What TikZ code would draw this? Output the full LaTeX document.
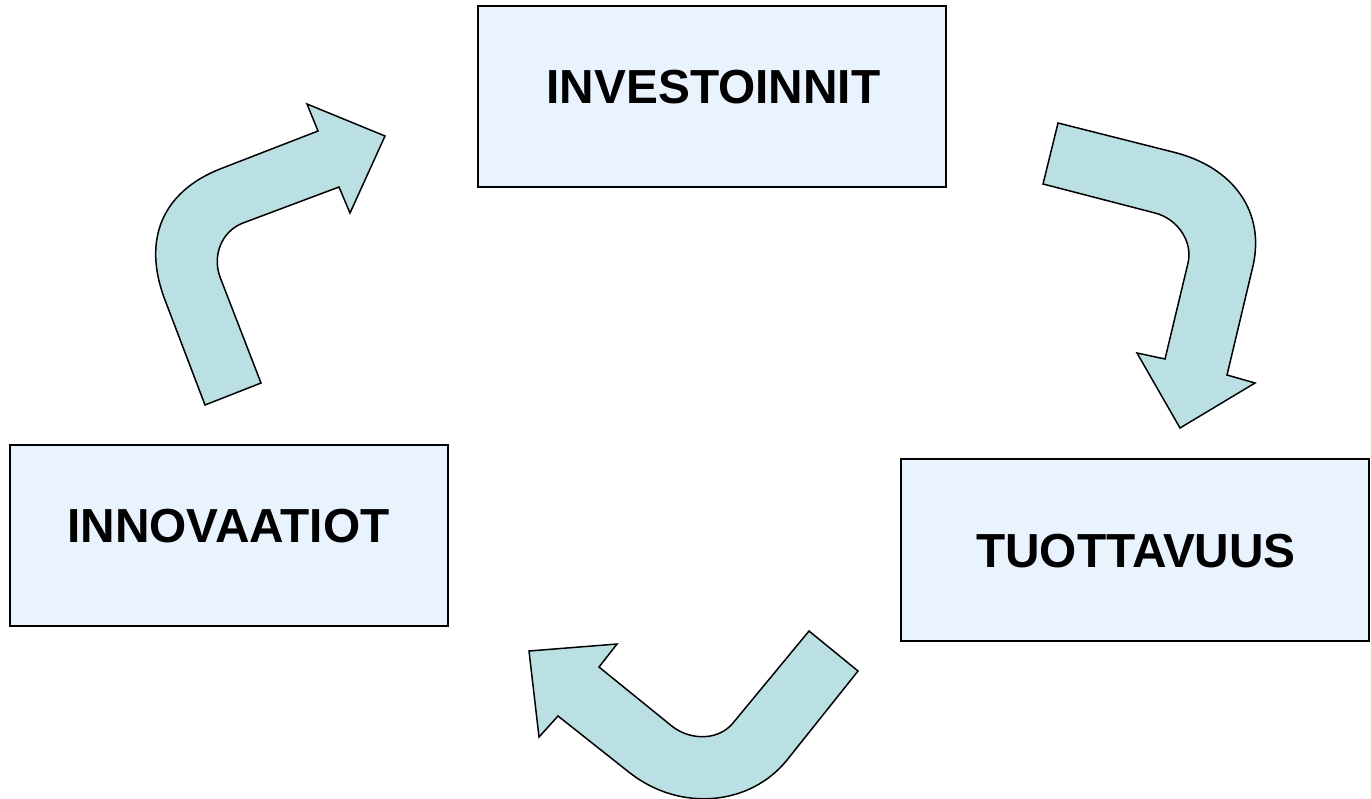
\documentclass[tikz,border=0pt]{standalone}
\usepackage{fontspec}
\setmainfont{Liberation Sans}
\definecolor{boxfill}{RGB}{232,243,254}
\definecolor{arrowfill}{RGB}{187,224,227}
\tikzset{
  box/.style={draw=black, fill=boxfill, line width=1.1pt, inner sep=0pt, outer sep=0pt},
  lbl/.style={inner sep=0pt, font=\fontsize{27.2pt}{32pt}\selectfont\bfseries},
  bentarrow/.style={draw=black, fill=arrowfill, line width=0.85pt, line join=miter}
}
\begin{document}
\begin{tikzpicture}[x=0.02cm, y=-0.02cm]
\useasboundingbox (0,0) rectangle (1371,798);
% boxes
\node[box, minimum width=9.36cm, minimum height=3.62cm] (inv) at (712,96.5) {};
\node[box, minimum width=8.76cm, minimum height=3.62cm] (inn) at (229,535.5) {};
\node[box, minimum width=9.36cm, minimum height=3.64cm] (tuo) at (1135,550) {};
% labels
\node[lbl] (invt) at (713.5,87.5) {INVESTOINNIT};
\node[lbl] (innt) at (228.5,526.5) {INNOVAATIOT};
\node[lbl] (tuot) at (1136,551.5) {TUOTTAVUUS};
% arrow: innovaatiot -> investoinnit
\draw[bentarrow] (205,405) -- (165,300) .. controls (142,240) and (162,192) .. (220,169)
  -- (318,131) -- (307,104) -- (385,136) -- (350,213) -- (339,187) -- (243,223)
  .. controls (222,231) and (212,255) .. (220,277) -- (261,383) -- cycle;
% arrow: investoinnit -> tuottavuus
\draw[bentarrow] (1058,123) -- (1173,152) .. controls (1234,167) and (1267,213) .. (1252,270)
  -- (1227,375) -- (1255,383) -- (1180,428) -- (1137,353) -- (1165,359) -- (1188,263)
  .. controls (1193,242) and (1178,219) .. (1155,213) -- (1043,184) -- cycle;
% arrow: tuottavuus -> innovaatiot
\draw[bentarrow] (858,671) -- (787,760) .. controls (750,806) and (680,812) .. (630,773)
  -- (558,716) -- (539,737) -- (529,651) -- (617,644) -- (599,667) -- (673,727)
  .. controls (692,741) and (719,740) .. (733,723) -- (809,631) -- cycle;
\end{tikzpicture}
\end{document}
